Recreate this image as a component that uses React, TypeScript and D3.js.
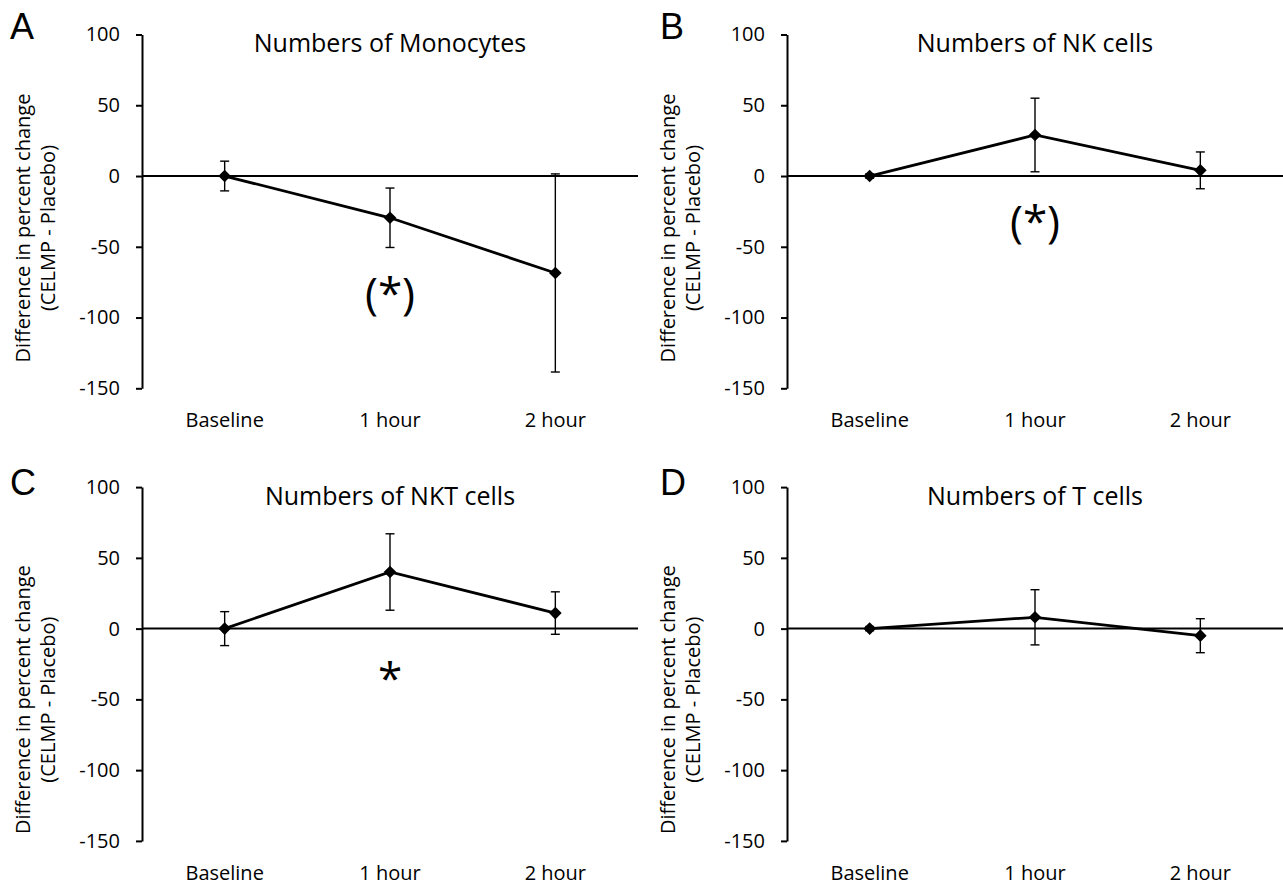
import React, { useRef, useEffect } from "react";
import * as d3 from "d3";

const timepoints = ["Baseline", "1 hour", "2 hour"];
const yTicks = [100, 50, 0, -50, -100, -150];
const panelLetters = ["A", "B", "C", "D"];
const panelTitles = [
    "Numbers of Monocytes",
    "Numbers of NK cells",
    "Numbers of NKT cells",
    "Numbers of T cells",
];

// difference in percent change (CELMP - Placebo), mean and error bar half-width
const monocyteMean = [0, -29.5, -68.5];
const monocyteErr = [10.5, 21, 70];
const nkMean = [0, 29, 4];
const nkErr = [1.5, 26, 13];
const nktMean = [0, 40, 11];
const nktErr = [12, 27, 15];
const tcellMean = [0, 8, -5];
const tcellErr = [1.5, 19.5, 12];

// significance marks and the level they sit at
const sigMarks = ["(*)", "(*)", "*", ""];
const sigLevels = [-94, -43, -46, 0];

const seriesMeans = [monocyteMean, nkMean, nktMean, tcellMean];
const seriesErrs = [monocyteErr, nkErr, nktErr, tcellErr];

const FONT = "'Open Sans', sans-serif";

export default function App() {
    const ref = useRef<SVGSVGElement>(null);

    useEffect(() => {
        const width = 1283, height = 885;
        const svg = d3.select(ref.current);
        svg.selectAll("*").remove();
        svg.attr("width", width).attr("height", height);

        const colOffset = [0, 645];
        const rowOffset = [0, 452.6];
        const labelCenter = [228, 247];

        panelTitles.forEach((title, i) => {
            const col = i % 2, row = Math.floor(i / 2);
            const left = 142 + colOffset[col];
            const right = left + 496;
            const top = 34.5 + rowOffset[row];
            const bottom = 388.3 + rowOffset[row];

            const x = d3.scalePoint<string>()
                .domain(timepoints)
                .range([left, right])
                .padding(0.5);

            const y = d3.scaleLinear()
                .domain([-150, 100])
                .range([bottom, top]);

            const g = svg.append("g");

            // panel letter
            g.append("text")
                .attr("x", (col === 0 ? 10 : 15) + colOffset[col])
                .attr("y", (row === 0 ? 39 : 495))
                .attr("font-family", "'Liberation Sans', Arial, sans-serif")
                .attr("font-size", 36)
                .text(panelLetters[i]);

            // title
            g.append("text")
                .attr("x", (left + right) / 2)
                .attr("y", top + 17.5)
                .attr("text-anchor", "middle")
                .attr("font-family", FONT)
                .attr("font-size", 25)
                .text(title);

            // y axis
            const yAxis = g.append("g")
                .attr("transform", `translate(${left},0)`)
                .call(d3.axisLeft(y)
                    .tickValues(yTicks)
                    .tickFormat(d => String(d))
                    .tickSize(6)
                    .tickSizeOuter(0)
                    .tickPadding(16));
            yAxis.select(".domain").attr("stroke", "#000").attr("stroke-width", 2);
            yAxis.selectAll(".tick line").attr("stroke", "#000").attr("stroke-width", 2);
            yAxis.selectAll(".tick text")
                .attr("font-family", FONT)
                .attr("font-size", 20)
                .attr("fill", "#000");

            // zero line
            g.append("line")
                .attr("x1", left)
                .attr("x2", right)
                .attr("y1", y(0))
                .attr("y2", y(0))
                .attr("stroke", "#000")
                .attr("stroke-width", 2);

            // x labels
            g.selectAll(".xlab")
                .data(timepoints)
                .enter()
                .append("text")
                .attr("x", d => x(d)!)
                .attr("y", bottom + 38.7)
                .attr("text-anchor", "middle")
                .attr("font-family", FONT)
                .attr("font-size", 20)
                .text(d => d);

            // y axis label
            const lx = 30 + colOffset[col];
            const ly = labelCenter[row] + rowOffset[row];
            g.append("text")
                .attr("transform", `translate(${lx},${ly}) rotate(-90)`)
                .attr("text-anchor", "middle")
                .attr("font-family", FONT)
                .attr("font-size", 20)
                .text("Difference in percent change");
            g.append("text")
                .attr("transform", `translate(${lx + 25},${ly}) rotate(-90)`)
                .attr("text-anchor", "middle")
                .attr("font-family", FONT)
                .attr("font-size", 20)
                .text("(CELMP - Placebo)");

            const means = seriesMeans[i];
            const errs = seriesErrs[i];
            const pts = timepoints.map((t, k) => ({ t, m: means[k], e: errs[k] }));

            // error bars
            const eb = g.selectAll(".eb").data(pts).enter().append("g")
                .attr("stroke", "#000")
                .attr("stroke-width", 1.4);
            eb.append("line")
                .attr("x1", d => x(d.t)!)
                .attr("x2", d => x(d.t)!)
                .attr("y1", d => y(d.m + d.e))
                .attr("y2", d => y(d.m - d.e));
            eb.append("line")
                .attr("x1", d => x(d.t)! - 4.5)
                .attr("x2", d => x(d.t)! + 4.5)
                .attr("y1", d => y(d.m + d.e))
                .attr("y2", d => y(d.m + d.e));
            eb.append("line")
                .attr("x1", d => x(d.t)! - 4.5)
                .attr("x2", d => x(d.t)! + 4.5)
                .attr("y1", d => y(d.m - d.e))
                .attr("y2", d => y(d.m - d.e));

            // line
            const line = d3.line<{ t: string; m: number }>()
                .x(d => x(d.t)!)
                .y(d => y(d.m));
            g.append("path")
                .datum(pts)
                .attr("d", line)
                .attr("fill", "none")
                .attr("stroke", "#000")
                .attr("stroke-width", 2.8);

            // diamond markers
            const diamond = d3.symbol().type(d3.symbolSquare).size(80);
            g.selectAll(".mk")
                .data(pts)
                .enter()
                .append("path")
                .attr("d", diamond)
                .attr("transform", d => `translate(${x(d.t)},${y(d.m)}) rotate(45)`)
                .attr("fill", "#000");

            // significance mark
            if (sigMarks[i]) {
                g.append("text")
                    .attr("x", x(timepoints[1])!)
                    .attr("y", y(sigLevels[i]))
                    .attr("text-anchor", "middle")
                    .attr("font-family", FONT)
                    .attr("font-size", 44)
                    .text(sigMarks[i]);
            }
        });
    }, []);

    return (
        <svg ref={ref} style={{ position: "absolute", left: 0, top: 0, background: "#fff" }}></svg>
    );
}
